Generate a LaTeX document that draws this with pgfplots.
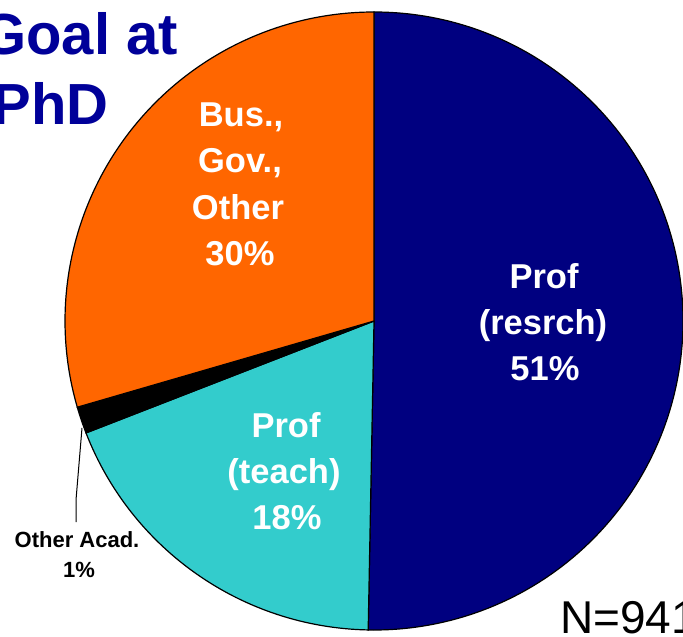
\documentclass[border=0pt]{standalone}
\usepackage{pgfplots}
\pgfplotsset{compat=1.18}
\usepackage{fontspec}
\setmainfont{Liberation Sans}
\definecolor{navy}{HTML}{000080}
\definecolor{orng}{HTML}{FF6600}
\definecolor{tealc}{HTML}{33CCCC}
\definecolor{titleblue}{HTML}{000099}
% shares (percent); labels show rounded values
\def\Vres{50.3}
\def\Vteach{18.8}
\def\Vacad{1.4}
\def\Vbus{29.5}
\begin{document}
\begin{tikzpicture}
\begin{axis}[name=ax, at={(0,0)}, anchor=south west,
  x=1bp, y=1bp, xmin=0, xmax=683, ymin=0, ymax=637, y dir=reverse,
  hide axis, clip=false]
% slices: centre (374,321), radius 309
\pgfmathsetmacro{\aA}{90}
\pgfmathsetmacro{\aB}{90-3.6*\Vres}
\pgfmathsetmacro{\aC}{\aB-3.6*\Vteach}
\pgfmathsetmacro{\aD}{\aC-3.6*\Vacad}
\pgfmathsetmacro{\aE}{\aD-3.6*\Vbus}
\fill[navy,draw=black,line width=1.2bp] (axis cs:374,321) -- (axis cs:{374+309*cos(\aA)},{321-309*sin(\aA)}) arc[start angle=\aA, end angle=\aB, radius=309bp] -- cycle;
\fill[tealc,draw=black,line width=1.2bp] (axis cs:374,321) -- (axis cs:{374+309*cos(\aB)},{321-309*sin(\aB)}) arc[start angle=\aB, end angle=\aC, radius=309bp] -- cycle;
\fill[black,draw=black,line width=1.2bp] (axis cs:374,321) -- (axis cs:{374+309*cos(\aC)},{321-309*sin(\aC)}) arc[start angle=\aC, end angle=\aD, radius=309bp] -- cycle;
\fill[orng,draw=black,line width=1.2bp] (axis cs:374,321) -- (axis cs:{374+309*cos(\aD)},{321-309*sin(\aD)}) arc[start angle=\aD, end angle=\aE, radius=309bp] -- cycle;
% labels
\tikzset{lbl/.style={inner sep=0pt, anchor=base, text=white, font=\bfseries\fontsize{34.5bp}{40bp}\selectfont}}
\node[lbl] at (axis cs:544,288) {Prof};
\node[lbl] at (axis cs:543,334) {(resrch)};
\node[lbl] at (axis cs:545,380) {51\%};
\node[lbl] at (axis cs:286,437) {Prof};
\node[lbl] at (axis cs:284,483) {(teach)};
\node[lbl] at (axis cs:287,529) {18\%};
\node[lbl] at (axis cs:241,127) {Bus.,};
\node[lbl] at (axis cs:240,173) {Gov.,};
\node[lbl] at (axis cs:238,219) {Other};
\node[lbl] at (axis cs:240,265) {30\%};
% other acad label and leader
\draw[black,line width=1bp] (axis cs:82,428) -- (axis cs:76,500) -- (axis cs:76,522);
\node[inner sep=0pt, anchor=base, font=\bfseries\fontsize{22bp}{25bp}\selectfont] at (axis cs:77,547) {Other Acad.};
\node[inner sep=0pt, anchor=base, font=\bfseries\fontsize{22bp}{25bp}\selectfont] at (axis cs:79,577) {1\%};
% title
\node[inner sep=0pt, anchor=base east, text=titleblue, font=\bfseries\fontsize{58bp}{70bp}\selectfont] at (axis cs:178,55) {Goal at};
\node[inner sep=0pt, anchor=base east, text=titleblue, font=\bfseries\fontsize{58bp}{70bp}\selectfont] at (axis cs:109,125) {PhD};
% N
\node[inner sep=0pt, anchor=base west, font=\fontsize{46bp}{55bp}\selectfont] at (axis cs:560,633) {N=941};
\end{axis}
\pgfresetboundingbox
\path[use as bounding box] (ax.south west) rectangle (ax.north east);
\end{tikzpicture}
\end{document}
